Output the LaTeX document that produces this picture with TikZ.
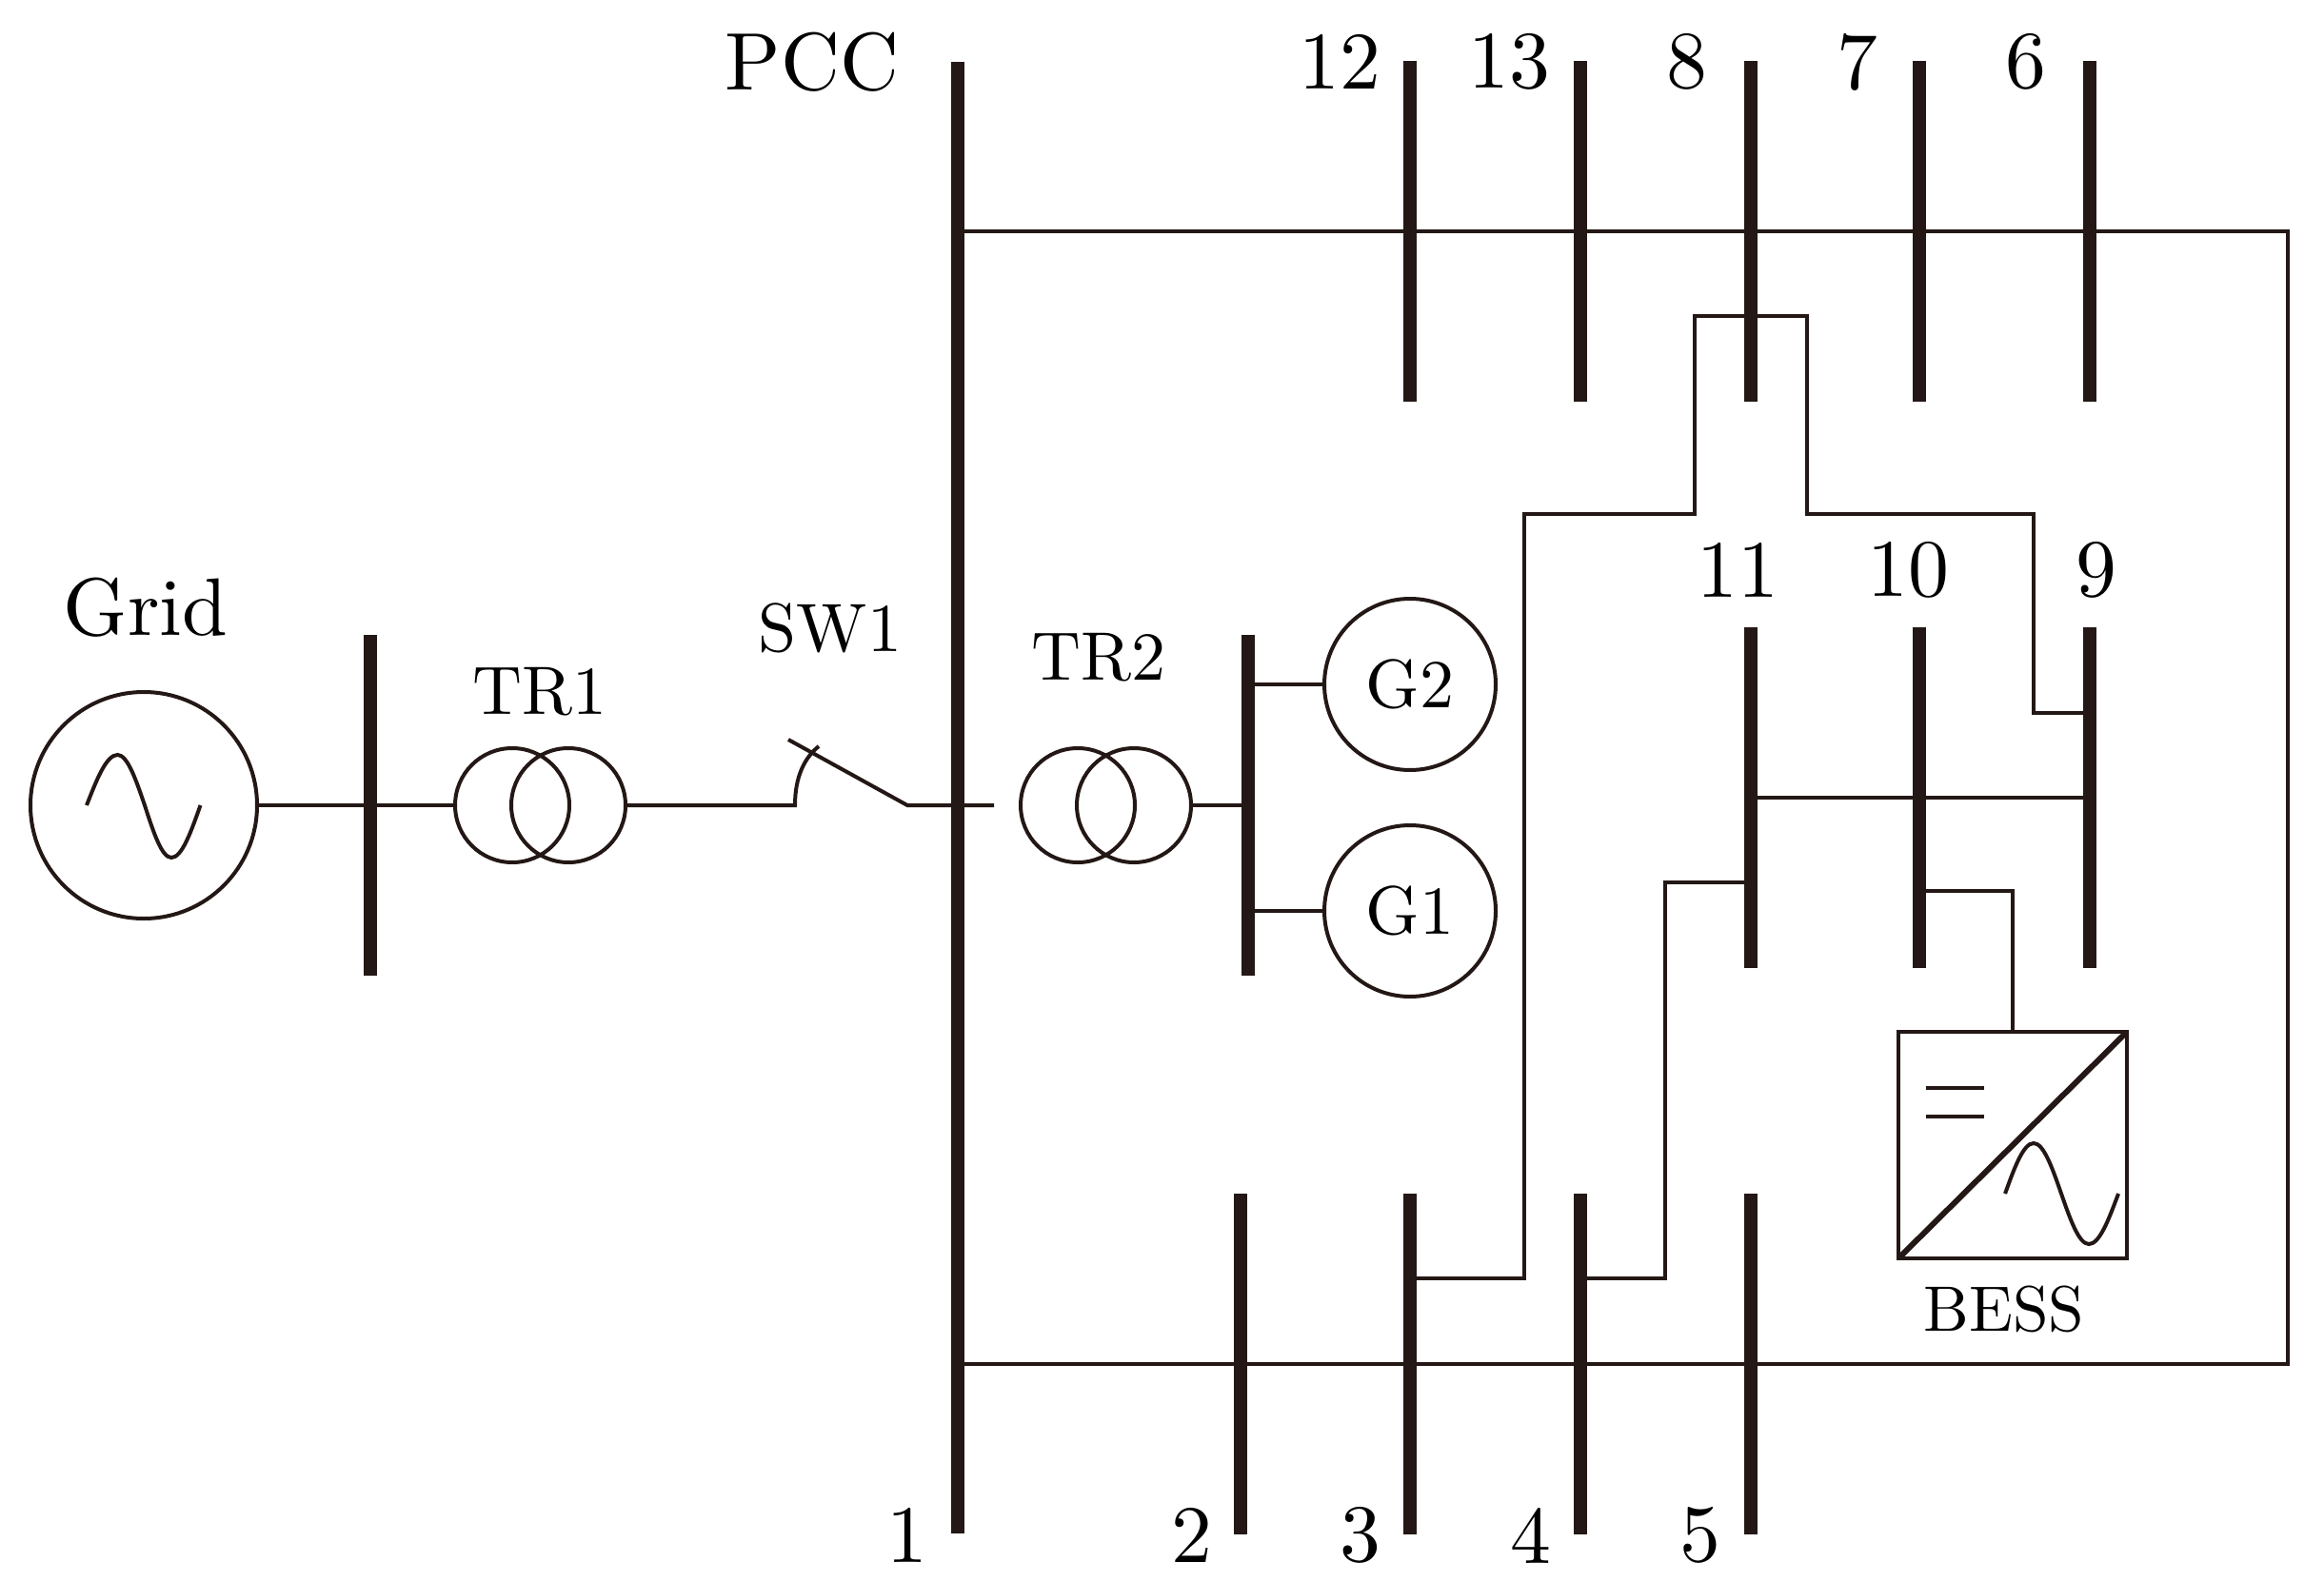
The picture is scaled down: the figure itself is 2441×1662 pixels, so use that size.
\documentclass[tikz,border=0pt]{standalone}
\begin{document}
\begin{tikzpicture}[x=0.1mm,y=-0.1mm]
\definecolor{inkdark}{HTML}{231815}
\tikzset{wire/.style={draw=inkdark, line width=0.4mm, line join=miter},
  bus/.style={fill=inkdark, inner sep=0pt, outer sep=0pt, minimum width=1.4mm, minimum height=35.8mm},
  longbus/.style={bus, minimum height=154.6mm},
  winding/.style={circle, wire, inner sep=0pt, minimum size=12mm},
  gen/.style={circle, wire, inner sep=0pt, minimum size=18mm},
  source/.style={circle, wire, inner sep=0pt, minimum size=23.8mm},
  conv/.style={rectangle, wire, inner sep=0pt, minimum width=24mm, minimum height=23.8mm},
  biglabel/.style={inner sep=0pt, font=\fontsize{10}{12}\selectfont, scale=2.44, transform shape},
  smalllabel/.style={inner sep=0pt, font=\fontsize{10}{12}\selectfont, scale=2.05, transform shape},
  tinylabel/.style={inner sep=0pt, font=\fontsize{10}{12}\selectfont, scale=1.92, transform shape}}
\useasboundingbox (0,0) rectangle (2441,1662);

% buses
\node[longbus] (b1) at (1006,838) {};
\foreach \n/\x in {12/1481, 13/1660, 8/1839, 7/2016, 6/2195}
  \node[bus] (b\n) at (\x,243) {};
\foreach \n/\x in {11/1839, 10/2016, 9/2195}
  \node[bus] (b\n) at (\x,838) {};
\foreach \n/\x in {2/1303, 3/1481, 4/1660, 5/1839}
  \node[bus] (b\n) at (\x,1433) {};
\node[bus] (bgrid) at (389,846) {};
\node[bus] (bgen) at (1311,846) {};

% bus numbers
\node[biglabel] (lpcc) at (853,65) {PCC};
\foreach \n/\x in {12/1407, 13/1585, 8/1772, 7/1951, 6/2128}
  \node[biglabel] (l\n) at (\x,65) {\n};
\foreach \n/\x in {11/1825, 10/2004, 9/2202}
  \node[biglabel] (l\n) at (\x,599) {\n};
\foreach \n/\x in {1/953, 2/1252, 3/1429, 4/1608, 5/1786}
  \node[biglabel] (l\n) at (\x,1613) {\n};

% grid side
\node[source] (grid) at (151,846) {};
\node[biglabel] (lgrid) at (153,638) {Grid};
\draw[wire] (91,846) sin (123.5,793) cos (152,846) sin (180,901) cos (210.5,846);
\node[winding] (tra) at (538,846) {};
\node[winding] (trb) at (597,846) {};
\node[smalllabel] (ltra) at (567,727) {TR1};
\draw[wire] (grid) -- (tra);

% switch
\coordinate (swa) at (835,846);
\coordinate (swb) at (953,846);
\node[smalllabel] (lsw) at (872,660) {SW1};
\draw[wire] (trb) -- (swa) .. controls (835,816) and (845,796) .. (860,784);
\draw[wire] (828,777) -- (swb) -- (1044,846);

% generators
\node[winding] (trc) at (1132,846) {};
\node[winding] (trd) at (1191,846) {};
\node[smalllabel] (ltrc) at (1154,691) {TR2};
\draw[wire] (trd) -- (bgen);
\node[gen] (g2) at (1481,719) {};
\node[gen] (g1) at (1481,957) {};
\node[smalllabel] (lgb) at (g2) {G2};
\node[smalllabel] (lga) at (g1) {G1};
\draw[wire] (bgen |- g2) -- (g2);
\draw[wire] (bgen |- g1) -- (g1);

% ring
\coordinate (ringa) at (2403,243);
\coordinate (ringb) at (2403,1433);
\draw[wire] (b1 |- b12) -- (ringa) -- (ringb) -- (b1 |- b5);

% feeders
\coordinate (tapc) at (1481,1343);
\coordinate (tapd) at (1660,1343);
\coordinate (tapn) at (2195,749);
\coordinate (tapk) at (1839,927);
\draw[wire] (tapc) -- (1601,1343) -- (1601,540) -- (1780,540) -- (1780,332) -- (1898,332) -- (1898,540) -- (2136,540) -- (2136,749) -- (tapn);
\draw[wire] (tapd) -- (1749,1343) -- (1749,927) -- (tapk);
\draw[wire] (b11) -- (b9);

% battery
\node[conv] (bess) at (2114,1203) {};
\node[tinylabel] (lbess) at (2105,1375) {BESS};
\coordinate (tapj) at (2016,936);
\draw[wire] (tapj) -| (bess.north);
\draw[wire, line width=0.6mm, shorten >=0.3mm, shorten <=0.3mm] (bess.south west) -- (bess.north east);
\draw[wire] (2023,1143) -- (2084,1143);
\draw[wire] (2023,1173) -- (2084,1173);
\draw[wire] (2106,1254) sin (2136,1201) cos (2165,1254) sin (2194,1307) cos (2225,1254);
\end{tikzpicture}
\end{document}
